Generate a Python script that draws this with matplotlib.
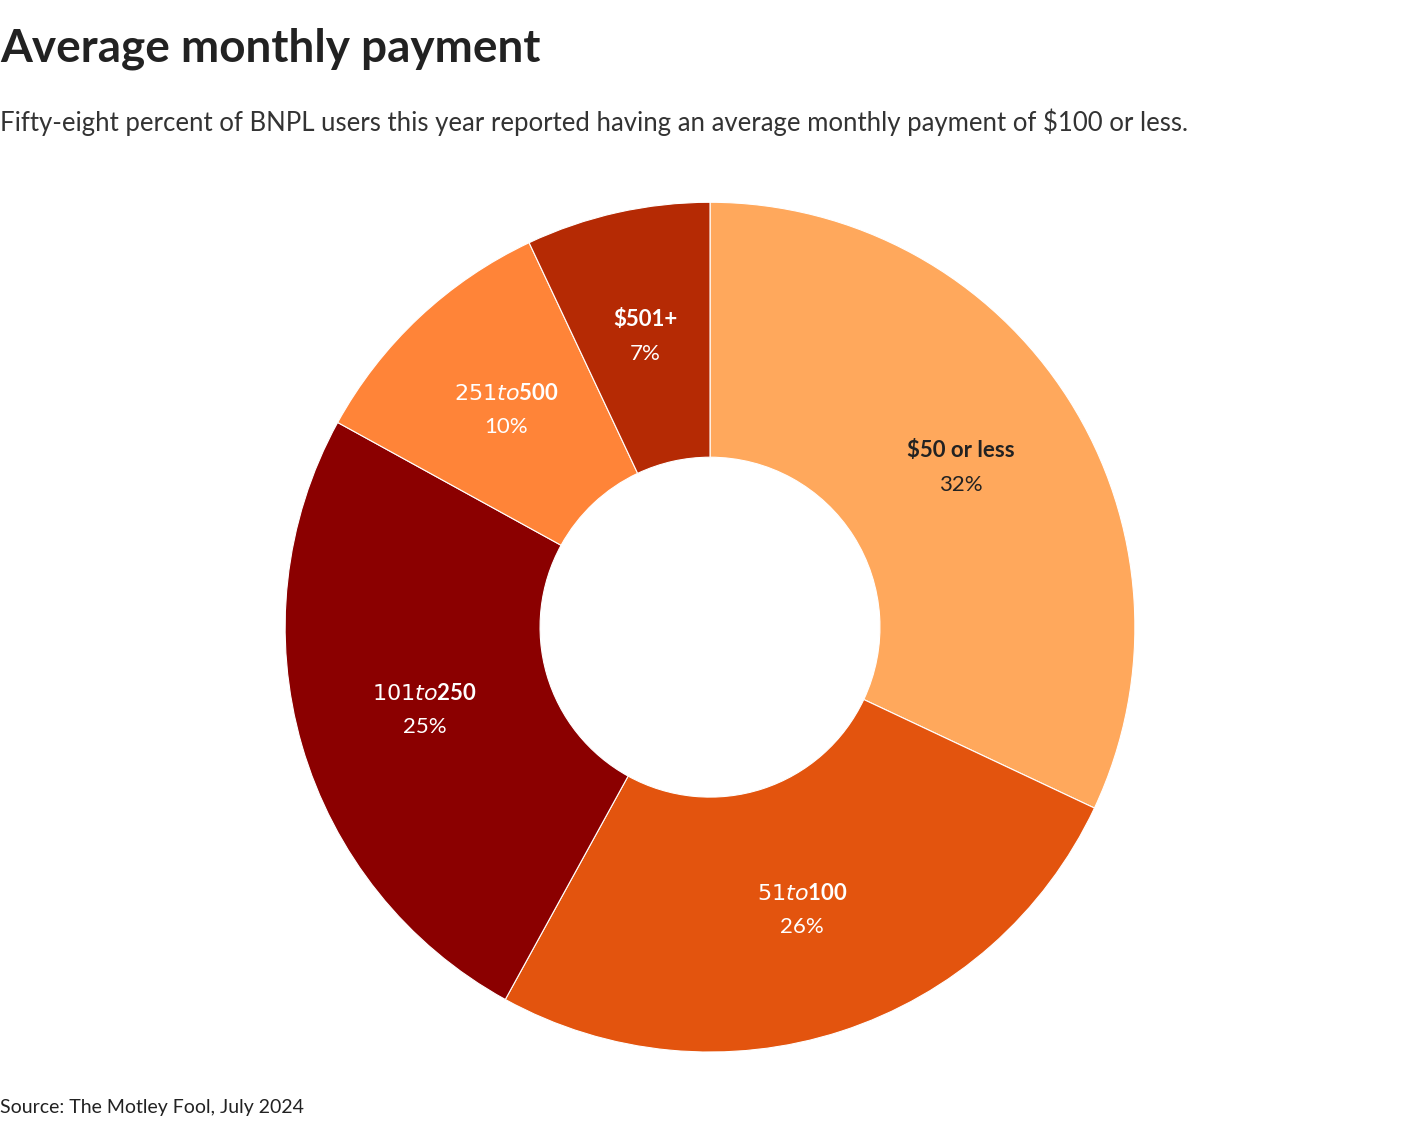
import matplotlib
matplotlib.use("Agg")
import matplotlib.pyplot as plt
import numpy as np

categories = ["$50 or less", "$51 to $100", "$101 to $250", "$251 to $500", "$501+"]
values = [32, 26, 25, 10, 7]
colors = ["#FFA85C", "#E3540E", "#8B0000", "#FF8438", "#B52A04"]
text_colors = ["#222222", "white", "white", "white", "white"]

plt.rcParams["font.family"] = "Lato"
fig = plt.figure(figsize=(14.2, 11.3), dpi=100)
ax = fig.add_axes([0.2007, 0.069, 0.5986, 0.752])
wedges, _ = ax.pie(values, colors=colors, startangle=90, counterclock=False,
                   radius=1, wedgeprops=dict(width=0.6, edgecolor="white", linewidth=0.8))
ax.set_xlim(-1, 1); ax.set_ylim(-1, 1); ax.set_aspect("equal"); ax.axis("off")

for w, c, v, tc in zip(wedges, categories, values, text_colors):
    ang = np.deg2rad((w.theta1 + w.theta2) / 2)
    x, y = 0.70 * np.cos(ang), 0.70 * np.sin(ang)
    ax.text(x, y + 0.04, c, ha="center", va="center", fontsize=16, fontweight="bold", color=tc)
    ax.text(x, y - 0.04, f"{v}%", ha="center", va="center", fontsize=16, color=tc)

fig.text(0.0, 0.957, "Average monthly payment", fontsize=33, fontweight="bold", color="#222222", va="center")
fig.text(0.0, 0.892, "Fifty-eight percent of BNPL users this year reported having an average monthly payment of $100 or less.",
         fontsize=18.5, color="#333333", va="center")
fig.text(0.0, 0.020, "Source: The Motley Fool, July 2024", fontsize=14, color="#222222", va="center")
fig.savefig("out.png", dpi=100, facecolor="white")
